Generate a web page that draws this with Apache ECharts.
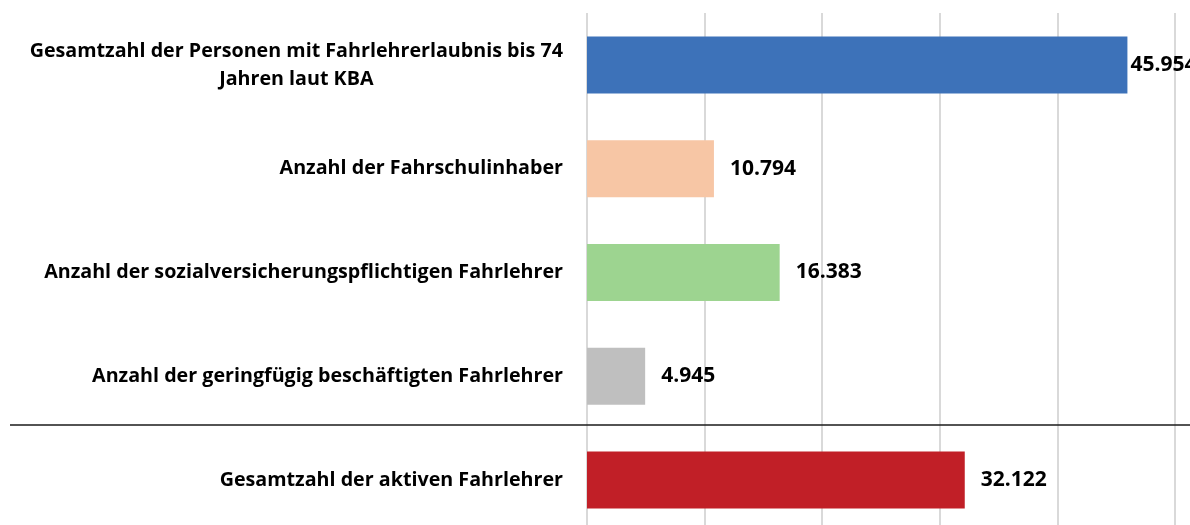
<!DOCTYPE html>
<html>
<head>
<meta charset="utf-8">
<script src="https://cdn.jsdelivr.net/npm/echarts@6/dist/echarts.min.js"></script>
<style>
  html, body { margin: 0; padding: 0; background: #ffffff; }
  #chart { width: 1190px; height: 525px; }
</style>
</head>
<body>
<div id="chart"></div>
<script>
  // categories top to bottom
  const categories = [
    "Gesamtzahl der Personen mit Fahrlehrerlaubnis bis 74\nJahren laut KBA",
    "Anzahl der Fahrschulinhaber",
    "Anzahl der sozialversicherungspflichtigen Fahrlehrer",
    "Anzahl der geringfügig beschäftigten Fahrlehrer",
    "Gesamtzahl der aktiven Fahrlehrer"
  ];
  const values = [45954, 10794, 16383, 4945, 32122];
  const barColors = ["#3d72b9", "#f7c6a5", "#9dd490", "#bfbfbf", "#c11f27"];

  const fmt = v => v.toLocaleString("de-DE");
  const FONT = "Open Sans";

  const chart = echarts.init(document.getElementById("chart"));

  const option = {
    animation: false,
    textStyle: { fontFamily: FONT },
    grid: {
      left: 587,
      right: 15,
      top: 13,
      height: 519,
      outerBoundsMode: "none"
    },
    xAxis: {
      type: "value",
      min: 0,
      max: 50000,
      interval: 10000,
      axisLabel: { show: false },
      axisLine: { show: false },
      axisTick: { show: false },
      splitLine: { lineStyle: { color: "#d9d9d9", width: 2 } }
    },
    yAxis: {
      type: "category",
      inverse: true,
      data: categories,
      axisLine: { show: false },
      axisTick: { show: false },
      axisLabel: {
        margin: 24,
        color: "#000",
        fontWeight: "bold",
        fontSize: 19.7,
        lineHeight: 28,
        formatter: function (v) {
          return v.split("\n").map(s => "{c|" + s + "}").join("\n");
        },
        rich: {
          c: { align: "center", fontWeight: "bold", fontSize: 19.7, color: "#000", fontFamily: FONT, lineHeight: 28 }
        }
      }
    },
    series: [{
      type: "bar",
      barWidth: 57,
      data: values.map((v, i) => ({
        value: v,
        itemStyle: { color: barColors[i] },
        label: i === 0 ? { distance: 3 } : undefined
      })),
      label: {
        show: true,
        position: "right",
        distance: 16,
        color: "#000",
        fontWeight: "bold",
        fontSize: 21,
        fontFamily: FONT,
        formatter: p => fmt(p.value)
      }
    }],
    graphic: [{
      type: "line",
      shape: { x1: 10, y1: 425, x2: 1190, y2: 425 },
      style: { stroke: "#1a1a1a", lineWidth: 1.5 },
      z: 10
    }]
  };

  chart.setOption(option);
</script>
</body>
</html>
